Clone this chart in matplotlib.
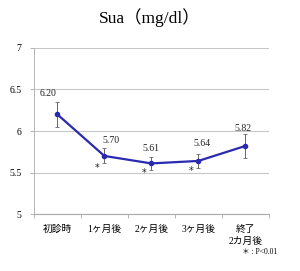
import matplotlib
matplotlib.use("Agg")
import matplotlib.pyplot as plt
import numpy as np

# data
categories = ["初診時", "1ヶ月後", "2ヶ月後", "3ヶ月後", "終了\n2カ月後"]
sua_mean = [6.20, 5.70, 5.61, 5.64, 5.82]
sua_err = [0.155, 0.09, 0.08, 0.085, 0.145]
value_labels = ["6.20", "5.70", "5.61", "5.64", "5.82"]
signif_idx = [1, 2, 3]
signif_y = [5.55, 5.49, 5.52]
yticks = [5, 5.5, 6, 6.5, 7]
yticklabels = ["5", "5.5", "6", "6.5", "7"]

fonts = ["Liberation Serif", "Noto Sans CJK JP"]
plt.rcParams["font.family"] = fonts

fig = plt.figure(figsize=(3.0, 2.71), dpi=100)
ax = fig.add_axes([0.113, 0.210, 0.783, 0.613])

x = np.arange(len(categories))
ax.errorbar(x, sua_mean, yerr=sua_err, color="#2a2ab0", lw=1.6,
            marker="o", ms=3, ecolor="#666666", elinewidth=0.7,
            capsize=1.2, capthick=0.6, zorder=3)

# value labels above points
label_dx = [-0.2, 0.15, 0.0, 0.07, -0.04]
label_dy = [0.25, 0.19, 0.18, 0.21, 0.21]
for i, txt in enumerate(value_labels):
    ax.text(x[i] + label_dx[i], sua_mean[i] + label_dy[i], txt,
            ha="center", va="center", fontsize=7, color="#222222")

# significance marks
for i, yy in zip(signif_idx, signif_y):
    ax.text(x[i] - 0.15, yy, "*", ha="center", va="center",
            fontsize=7, color="#222222", family="DejaVu Sans")

ax.set_xlim(-0.5, 4.5)
ax.set_ylim(5, 7)
ax.set_yticks(yticks)
ax.set_yticklabels(yticklabels, fontsize=7)
ax.yaxis.grid(True, color="#c8c8c8", lw=0.8)
ax.set_axisbelow(True)

ax.set_xticks(x)
ax.set_xticklabels(categories, fontsize=7, linespacing=1.4)
ax.set_xticks(np.arange(-0.5, 5.0, 1.0), minor=True)
ax.tick_params(axis="x", which="major", length=0, pad=8)
ax.tick_params(axis="x", which="minor", length=3, color="#aaaaaa", width=0.6)
ax.tick_params(axis="y", length=3, color="#aaaaaa", width=0.6, pad=6)

for s in ["top", "right"]:
    ax.spines[s].set_visible(False)
ax.spines["left"].set_color("#aaaaaa")
ax.spines["bottom"].set_color("#aaaaaa")
ax.spines["left"].set_linewidth(0.6)
ax.spines["bottom"].set_linewidth(0.8)

fig.text(0.5, 0.935, "Sua（mg/dl）", ha="center", va="center", fontsize=12.5)
fig.text(0.925, 0.07, "＊ : P<0.01", ha="right", va="center", fontsize=5.5)

fig.savefig("out.png", dpi=100)
